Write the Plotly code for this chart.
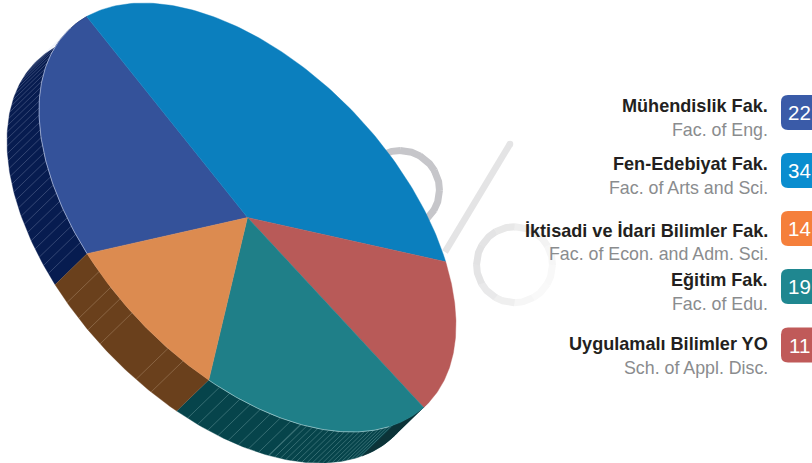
import numpy as np
import plotly.graph_objects as go

# ---- data -------------------------------------------------------------
faculties_tr = ["Mühendislik Fak.", "Fen-Edebiyat Fak.", "İktisadi ve İdari Bilimler Fak.", "Eğitim Fak.", "Uygulamalı Bilimler YO"]
faculties_en = ["Fac. of Eng.", "Fac. of Arts and Sci.", "Fac. of Econ. and Adm. Sci.", "Fac. of Edu.", "Sch. of Appl. Disc."]
legend_values = [22, 34, 14, 19, 11]
legend_colors = ["#3a5ba8", "#0a8dcf", "#f57f3b", "#1f8790", "#c05a59"]

pie_values = [22, 34, 14, 19, 11]
pie_colors = ["#34529a", "#0b7fbe", "#b85a58", "#1f7f88", "#dc8b50"]
wall_colors = ["#071c50", "#0b3a5e", "#0c3338", "#06444b", "#6a401c"]

# ---- layout constants ---------------------------------------------------
W, H = 812, 463
CX, CY, AX, AY, PHI = 247.5, 217.5, 208.5, 214.5, np.radians(60.0)
DX, DY = -32, 31
START = 140.3

def ell(tdeg):
    t = np.radians(np.asarray(tdeg, dtype=float))
    return CX + AX * np.cos(t), CY + AY * np.cos(t - PHI)

fig = go.Figure()

def poly(x, y, color):
    fig.add_trace(go.Scatter(x=list(x), y=list(y), mode="lines", fill="toself", fillcolor=color,
                             line=dict(width=0.4, color=color), hoverinfo="skip", showlegend=False))

def stroke(x, y, color, width):
    fig.add_trace(go.Scatter(x=list(x), y=list(y), mode="lines", line=dict(color=color, width=width),
                             hoverinfo="skip", showlegend=False, connectgaps=False))

# ---- decorative percent sign --------------------------------------------
def arc(cx, cy, r, a0, a1, color):
    a = np.radians(np.linspace(a0, a1, 30))
    stroke(cx + r * np.cos(a), cy + r * np.sin(a), color, 7)

for i in range(12):
    a0 = -120 + i * 30
    arc(400, 190, 39.5, a0, a0 + 31, "#c6c6ca")
ring_cols = ["#f6f6f6", "#efefef", "#e9e9ea", "#e4e4e5", "#e2e2e3", "#e4e4e5", "#e8e8e8", "#eeeeee", "#f3f3f3", "#f6f6f6", "#f8f8f8", "#f9f9f9"]
for i, c in enumerate(ring_cols):
    a0 = 60 + i * 30
    arc(514.5, 264.7, 38, a0, a0 + 31, c)
stroke([510, 445], [144, 252], "#e4e4e5", 6.5)
fig.add_trace(go.Scatter(x=[510], y=[144], mode="markers", marker=dict(size=6.5, color="#e4e4e5", line=dict(width=0)),
                         hoverinfo="skip", showlegend=False))

# ---- pie ----------------------------------------------------------------
fracs = np.cumsum([0] + pie_values) / sum(pie_values)
bounds = START + 360 * fracs

# side walls
for k in [0, 3, 4]:
    ts = np.linspace(bounds[k], bounds[k + 1], 80)
    x, y = ell(ts)
    poly(np.r_[x, x[::-1] + DX], np.r_[y, y[::-1] + DY], wall_colors[k])

# dark end of the wall at the lower right
ts = np.linspace(bounds[3] - 3, bounds[3] + 13, 30)
x, y = ell(ts)
poly(np.r_[x, x[::-1] + DX], np.r_[y, y[::-1] + DY], wall_colors[2])

# hatch lines on the walls
def hatch(ts, color):
    xs, ys = [], []
    for t in ts:
        x, y = ell(t)
        xs += [float(x), float(x) + DX, None]
        ys += [float(y), float(y) + DY, None]
    stroke(xs, ys, color, 0.6)

hatch(np.arange(bounds[0] + 3, bounds[1] - 8, 2.2), "rgba(210,220,240,0.38)")
hatch(np.r_[np.arange(bounds[3] + 14, bounds[3] + 43, 1.6), np.arange(bounds[3] + 43, bounds[4] - 1, 2.8)], "rgba(200,235,235,0.42)")
hatch([108, 112.4, 123.6, 127.7, 131, 135.4], "rgba(240,215,190,0.4)")

# top faces
for k, c in enumerate(pie_colors):
    ts = np.linspace(bounds[k], bounds[k + 1], 120)
    x, y = ell(ts)
    poly(np.r_[CX, x, CX], np.r_[CY, y, CY], c)

# thin light rim where the top meets the wall
for t0, t1, c in [(bounds[0], bounds[0] + 72, "rgba(225,232,250,0.65)"), (bounds[3] + 15, bounds[4], "rgba(225,245,245,0.6)")]:
    x, y = ell(np.linspace(t0, t1, 80))
    stroke(x, y, c, 0.8)

# ---- legend -------------------------------------------------------------
BADGE_TOP = [95, 153, 211, 269, 327.5]
TITLE_Y = [105.5, 164, 231, 280, 343.5]
SUB_Y = [130, 188, 254, 304, 368]
shapes, annotations = [], []
FONT = "Liberation Sans"
for i in range(5):
    t, b, l, r, rad = BADGE_TOP[i], BADGE_TOP[i] + 35, 781, 830, 7
    path = (f"M{l + rad},{t} L{r},{t} L{r},{b} L{l + rad},{b} Q{l},{b} {l},{b - rad} "
            f"L{l},{t + rad} Q{l},{t} {l + rad},{t} Z")
    shapes.append(dict(type="path", path=path, xref="x", yref="y", fillcolor=legend_colors[i], line=dict(width=0)))
    annotations.append(dict(x=770, y=TITLE_Y[i], text=f"<b>{faculties_tr[i]}</b>", xref="x", yref="y", showarrow=False,
                            xanchor="right", yanchor="middle", font=dict(family=FONT, size=18.1, color="#231f20")))
    annotations.append(dict(x=770, y=SUB_Y[i], text=faculties_en[i], xref="x", yref="y", showarrow=False,
                            xanchor="right", yanchor="middle", font=dict(family=FONT, size=17.8, color="#8a8c8e")))
    annotations.append(dict(x=799, y=t + 17.5, text=str(legend_values[i]), xref="x", yref="y", showarrow=False,
                            xanchor="center", yanchor="middle", font=dict(family=FONT, size=20.5, color="#ffffff")))

fig.update_layout(
    width=W, height=H, margin=dict(l=0, r=0, t=0, b=0), paper_bgcolor="#ffffff", plot_bgcolor="#ffffff",
    xaxis=dict(range=[0, W], visible=False, fixedrange=True),
    yaxis=dict(range=[H, 0], visible=False, fixedrange=True),
    shapes=shapes, annotations=annotations, showlegend=False,
)
fig.write_html("out.html", config={"displayModeBar": False}, include_plotlyjs=True)

# the page's default body margin would shift the chart by 8 px
with open("out.html", encoding="utf-8") as f:
    page = f.read()
page = page.replace("<body>", '<body style="margin:0;overflow:hidden">', 1)
with open("out.html", "w", encoding="utf-8") as f:
    f.write(page)
